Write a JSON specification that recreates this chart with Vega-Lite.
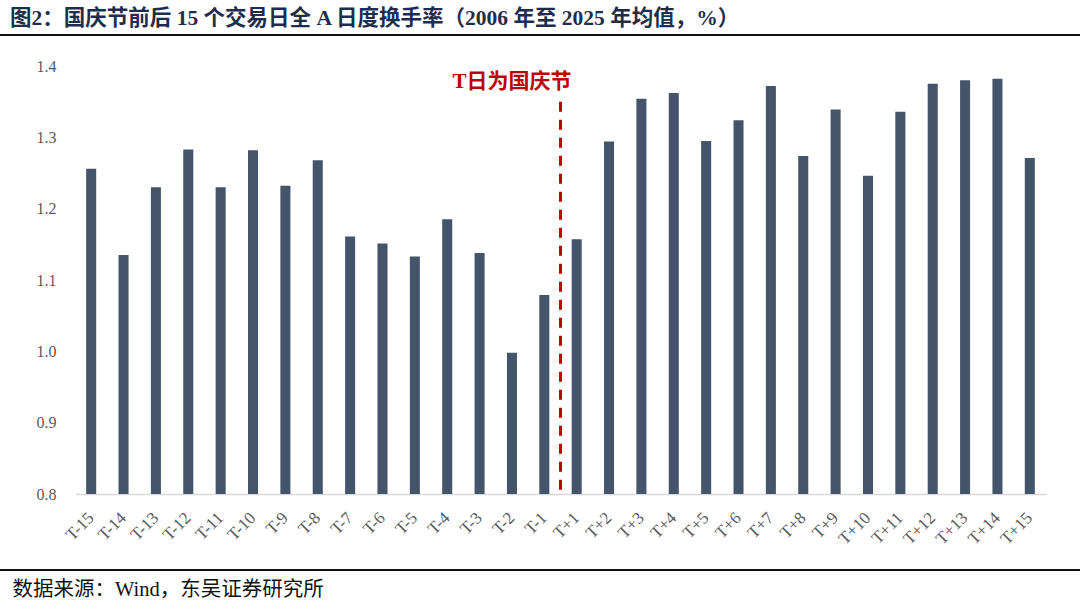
{
  "$schema": "https://vega.github.io/schema/vega-lite/v6.json",
  "description": "国庆节前后15个交易日全A日度换手率",
  "width": 971,
  "height": 428,
  "autosize": {"type": "none"},
  "padding": {"left": 75, "top": 66, "right": 34, "bottom": 111},
  "background": "#fff",
  "config": {"view": {"stroke": null}},
  "title": {
    "text": "图2：国庆节前后 15 个交易日全 A 日度换手率（2006 年至 2025 年均值，%）",
    "anchor": "start",
    "frame": "group",
    "dx": -65,
    "offset": 5,
    "font": "Liberation Serif, Noto Sans CJK SC",
    "fontSize": 21.5,
    "fontWeight": "bold",
    "color": "#1f2d4d"
  },
  "data": {
    "values": [
      {"day": "T-15", "rate": 1.256},
      {"day": "T-14", "rate": 1.135},
      {"day": "T-13", "rate": 1.230},
      {"day": "T-12", "rate": 1.283},
      {"day": "T-11", "rate": 1.230},
      {"day": "T-10", "rate": 1.282},
      {"day": "T-9", "rate": 1.232},
      {"day": "T-8", "rate": 1.268},
      {"day": "T-7", "rate": 1.161},
      {"day": "T-6", "rate": 1.151},
      {"day": "T-5", "rate": 1.133},
      {"day": "T-4", "rate": 1.185},
      {"day": "T-3", "rate": 1.138},
      {"day": "T-2", "rate": 0.998},
      {"day": "T-1", "rate": 1.079},
      {"day": "T+1", "rate": 1.157},
      {"day": "T+2", "rate": 1.294},
      {"day": "T+3", "rate": 1.354},
      {"day": "T+4", "rate": 1.362},
      {"day": "T+5", "rate": 1.295},
      {"day": "T+6", "rate": 1.324},
      {"day": "T+7", "rate": 1.372},
      {"day": "T+8", "rate": 1.274},
      {"day": "T+9", "rate": 1.339},
      {"day": "T+10", "rate": 1.246},
      {"day": "T+11", "rate": 1.336},
      {"day": "T+12", "rate": 1.375},
      {"day": "T+13", "rate": 1.380},
      {"day": "T+14", "rate": 1.382},
      {"day": "T+15", "rate": 1.271}
    ]
  },
  "encoding": {
    "x": {
      "field": "day",
      "type": "nominal",
      "sort": null,
      "scale": {"paddingInner": 0, "paddingOuter": 0},
      "axis": {
        "title": "数据来源：Wind，东吴证券研究所",
        "titleX": -63,
        "titleY": 95,
        "titleAnchor": null,
        "titleAlign": "left",
        "titleBaseline": "middle",
        "titleFont": "Liberation Serif, Noto Sans CJK SC",
        "titleFontSize": 20.5,
        "titleFontWeight": "normal",
        "titleColor": "#111",
        "labelAngle": -45,
        "labelAlign": "right",
        "labelBaseline": "middle",
        "labelPadding": 21,
        "labelOverlap": false,
        "labelFont": "Liberation Serif",
        "labelFontSize": 17,
        "labelColor": "#595959",
        "ticks": false,
        "domainColor": "#d9d9d9",
        "domainWidth": 1.5,
        "grid": false
      }
    }
  },
  "layer": [
    {
      "mark": {"type": "bar", "color": "#44546a", "width": {"band": 0.31}},
      "encoding": {
        "y": {
          "field": "rate",
          "type": "quantitative",
          "stack": null,
          "scale": {"domain": [0.8, 1.4], "nice": false, "zero": false},
          "axis": {
            "title": null,
            "values": [0.8, 0.9, 1.0, 1.1, 1.2, 1.3, 1.4],
            "format": ".1f",
            "domain": false,
            "ticks": false,
            "grid": false,
            "labelPadding": 19,
            "labelFont": "Liberation Serif",
            "labelFontSize": 16,
            "labelColor": "#595959"
          }
        },
        "y2": {"datum": 0.8},
        "tooltip": [
          {"field": "day", "type": "nominal", "title": "交易日"},
          {"field": "rate", "type": "quantitative", "title": "换手率(%)", "format": ".3f"}
        ]
      }
    },
    {
      "data": {"values": [{}]},
      "mark": {"type": "rule", "color": "#c00000", "strokeWidth": 3, "strokeDash": [10, 8]},
      "encoding": {
        "x": {"datum": "T+1", "bandPosition": 0},
        "y": {"datum": 1.35},
        "y2": {"datum": 0.8}
      }
    },
    {
      "data": {"values": [{"note": "T日为国庆节"}]},
      "mark": {
        "type": "text",
        "color": "#c00000",
        "font": "Liberation Serif, Noto Sans CJK SC",
        "fontSize": 21,
        "fontWeight": "bold",
        "baseline": "middle"
      },
      "encoding": {
        "x": {"datum": "T-2"},
        "y": {"datum": 1.377},
        "text": {"field": "note"}
      }
    },
    {
      "data": {"values": [{}]},
      "mark": {"type": "rule", "color": "#111", "strokeWidth": 2},
      "encoding": {
        "x": {"value": -75},
        "x2": {"value": 1005},
        "y": {"value": -31}
      }
    },
    {
      "data": {"values": [{}]},
      "mark": {"type": "rule", "color": "#111", "strokeWidth": 2},
      "encoding": {
        "x": {"value": -75},
        "x2": {"value": 1005},
        "y": {"value": 504}
      }
    }
  ]
}
